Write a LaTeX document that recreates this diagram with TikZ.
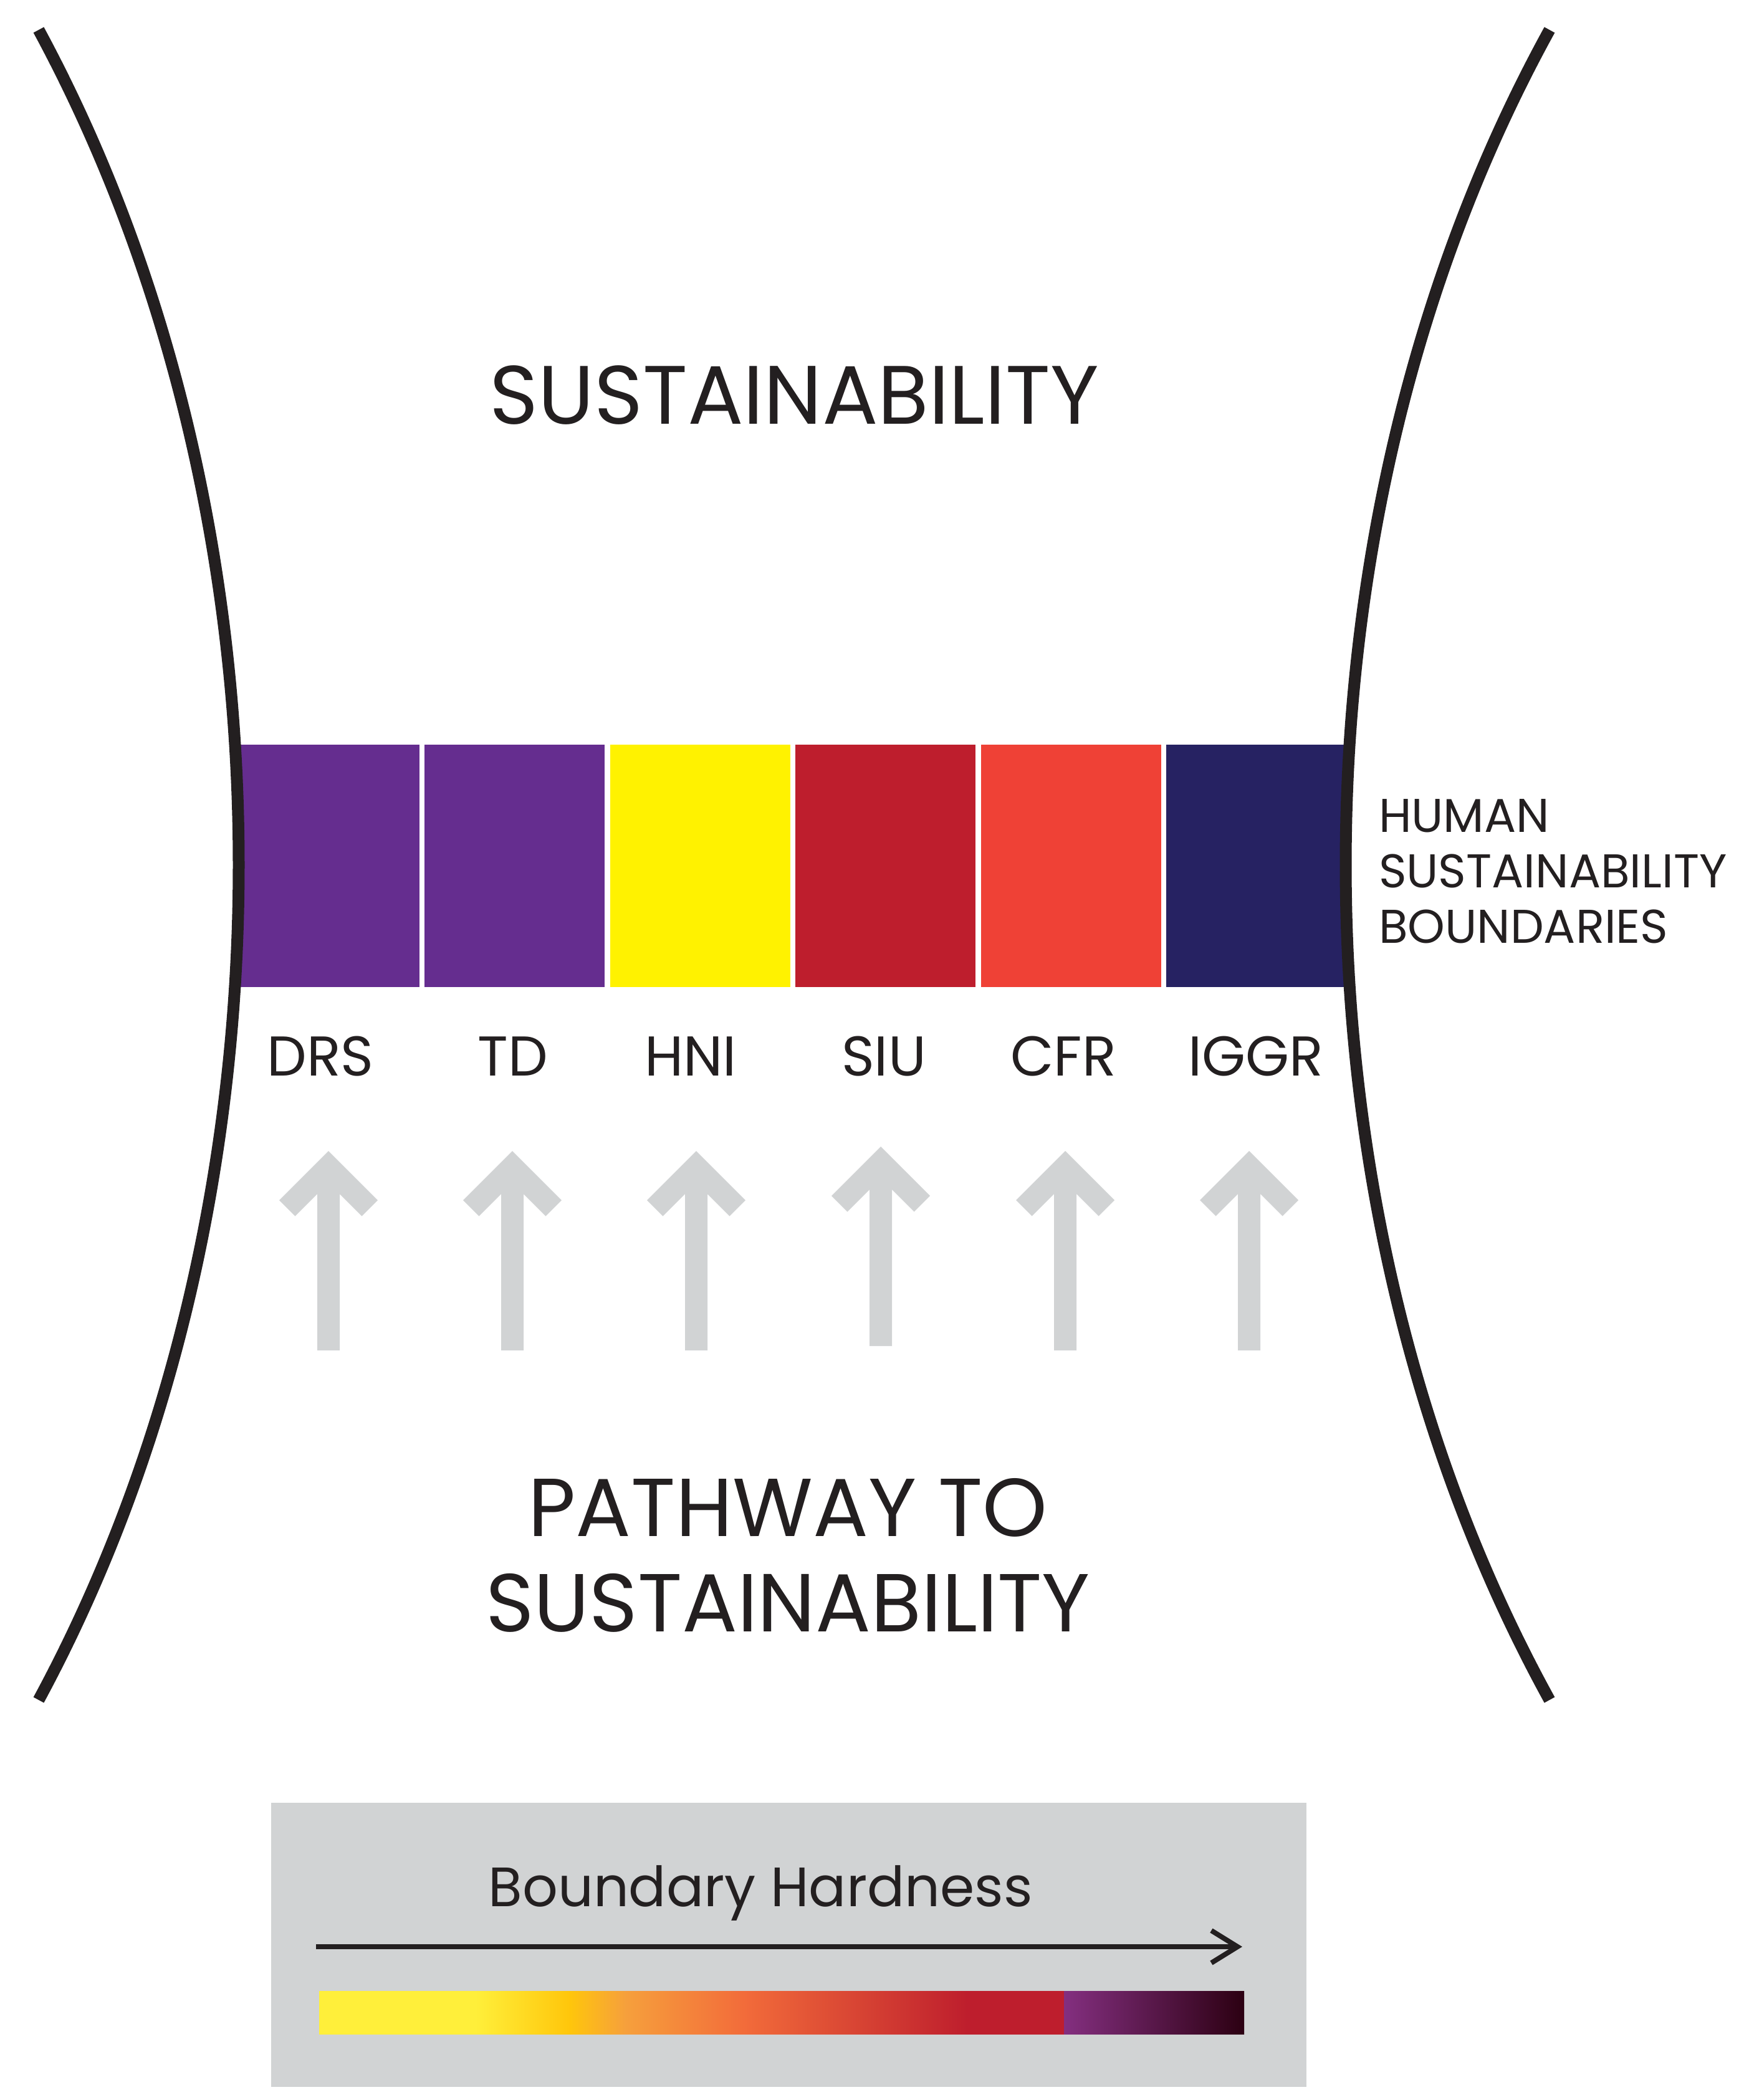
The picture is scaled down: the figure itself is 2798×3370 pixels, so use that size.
\documentclass[tikz,border=0pt]{standalone}
\usepackage{fontspec}
\setmainfont{Poppins}
\usetikzlibrary{arrows.meta}
\definecolor{ink}{HTML}{231F20}
\definecolor{bpurple}{HTML}{652D8F}
\definecolor{byellow}{HTML}{FFF200}
\definecolor{bred}{HTML}{BE1E2D}
\definecolor{borange}{HTML}{EF4136}
\definecolor{bnavy}{HTML}{262262}
\definecolor{pale}{HTML}{D1D3D4}
\definecolor{hA}{HTML}{FFEF3A}
\definecolor{hB}{HTML}{FFC60B}
\definecolor{hC}{HTML}{F6A03C}
\definecolor{hD}{HTML}{F26B3A}
\definecolor{hE}{HTML}{BE1E2D}
\definecolor{hF}{HTML}{842F80}
\definecolor{hG}{HTML}{2C0012}

\begin{document}
\begin{tikzpicture}[x=0.1pt,y=-0.1pt,
  txt/.style={text=ink,inner sep=0pt},
  block/.style={inner sep=0pt,minimum width=28.9pt,minimum height=38.9pt},
  lab/.style={txt,anchor=base,font=\fontsize{9}{11}\selectfont},
  edge/.style={draw=ink,line width=1.9pt}]
\useasboundingbox (0,0) rectangle (2798,3370);

% the six boundaries
\foreach \c [count=\i from 0] in {bpurple,bpurple,byellow,bred,borange,bnavy}
  \node[block,fill=\c] (blk\i) at (528+297.5*\i,1389.5) {};

% the two walls
\draw[edge] (62,48) .. controls (490,841) and (490,1935) .. (62,2728);
\draw[edge] (2486,48) .. controls (2050,841) and (2050,1935) .. (2486,2728);

\node[txt,anchor=base,font=\fontsize{13.3}{16}\selectfont] (sust) at (1274,680) {SUSTAINABILITY};

\node[txt,anchor=north west,align=left,font=\fontsize{7.6}{8.9}\selectfont] (hsb) at (2210,1280) {HUMAN\\SUSTAINABILITY\\BOUNDARIES};

\node[lab] (drs) at (514,1726) {DRS};
\node[lab] (td) at (823,1726) {TD};
\node[lab] (hni) at (1108,1726) {HNI};
\node[lab] (siu) at (1418,1726) {SIU};
\node[lab] (cfr) at (1706,1726) {CFR};
\node[lab] (iggr) at (2015,1726) {IGGR};

% grey arrows pushing upwards
\foreach \x/\t in {527/1847,822/1847,1117/1847,1413/1840,1709/1847,2004/1847}
  \fill[pale] (\x,\t) -- ++(79,79) -- ++(-25.5,25.5) -- (\x+18,\t+69) -- (\x+18,\t+320)
    -- (\x-18,\t+320) -- (\x-18,\t+69) -- (\x-53.5,\t+104.5) -- (\x-79,\t+79) -- cycle;

\node[txt,anchor=north,align=center,font=\fontsize{13.2}{15.3}\selectfont] (path) at (1264,2370) {PATHWAY TO\\SUSTAINABILITY};

% legend
\fill[pale] (435,2893) rectangle (2096,3349);
\node[txt,anchor=base,font=\fontsize{8.9}{11}\selectfont] (hard) at (1220,3059) {Boundary Hardness};
\coordinate (hs) at (507,3124);
\coordinate (he) at (1993,3124);
\draw[ink,line width=0.8pt,-{Straight Barb[length=4.2pt,width=5.2pt]}] (hs) -- (he);
\foreach \a/\b/\l/\r in {512/765/hA/hA,764/914/hA/hB,913/1003/hB/hC,1002/1196/hC/hD,
    1195/1552/hD/hE,1551/1708/hE/hE,1707/1996/hF/hG}
  \shade[left color=\l,right color=\r] (\a,3195) rectangle (\b,3264);
\end{tikzpicture}
\end{document}
